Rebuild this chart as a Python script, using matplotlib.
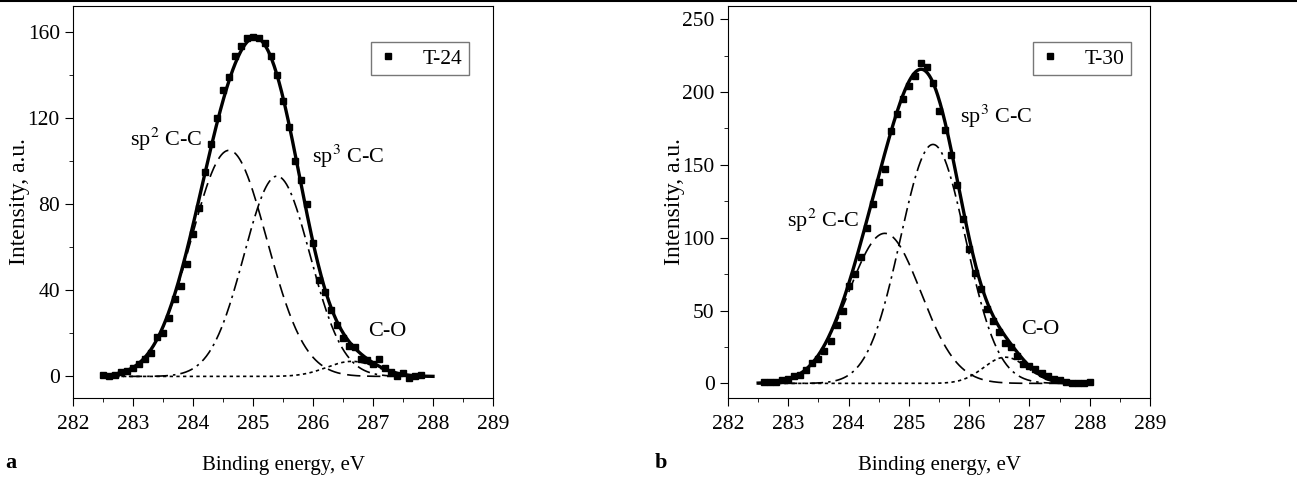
import numpy as np
import matplotlib
matplotlib.use("Agg")
import matplotlib.pyplot as plt
from matplotlib.lines import Line2D
from matplotlib.ticker import MultipleLocator

plt.rcParams["font.family"] = ["Liberation Serif", "DejaVu Serif"]
plt.rcParams["mathtext.fontset"] = "stix"

# ── Data ──────────────────────────────────────────────────────────────────────

# panel a, T-24: measured points (0.1 eV step)
t24_x = np.round(np.arange(282.5, 287.85, 0.1), 2)
t24_y = [0.5, 0.3, 0.8, 2, 2.5, 4, 6, 8, 11, 18.5,
         20, 27, 36, 42, 52, 66, 78, 95, 108, 120,
         133, 139, 149, 153.5, 157, 157.5, 157, 155, 149, 140,
         128, 116, 100, 91, 80, 62, 45, 39, 31, 24,
         18, 14, 13.5, 8, 7.5, 6, 8, 4, 2, 0,
         1.5, -0.5, 0, 0.5]

# panel b, T-30
t30_x = np.round(np.arange(282.6, 288.05, 0.1), 2)
t30_y = [1, 1, 1, 2, 3, 5, 5.5, 9, 14, 17,
         22, 29, 40, 50, 67, 75, 87, 107, 123, 138,
         147, 173, 185, 195, 204, 211, 220, 217, 206, 187,
         174, 157, 136, 113, 92, 76, 65, 51, 43, 35,
         28, 25, 19, 13, 12, 10, 7, 5, 3, 2,
         1, 0.5, 0.5, 0.5, 1]

# fitted components: sp2 C-C, sp3 C-C, C-O (centre eV, height, sigma eV)
peak_names = ["sp2", "sp3", "CO"]
t24_centre = [284.6, 285.4, 286.65]
t24_height = [105, 93, 7]
t24_sigma = [0.63, 0.55, 0.42]
t30_centre = [284.6, 285.4, 286.6]
t30_height = [103, 164, 18]
t30_sigma = [0.60, 0.54, 0.36]

fit_range = (282.5, 288.0)

# ── Plotting ──────────────────────────────────────────────────────────────────

STYLES = {"sp2": (0, (8, 4)),
          "sp3": (0, (8, 3, 1.5, 3)),
          "CO": (0, (2, 2))}


def gauss(x, c, h, s):
    return h * np.exp(-(x - c) ** 2 / (2 * s ** 2))


def draw_panel(ax, xs, ys, centres, heights, sigmas, name, ylim, ymaj, ymin,
               leg_anchor):
    xf = np.linspace(*fit_range, 400)
    total = np.zeros_like(xf)
    for pk, c, h, s in zip(peak_names, centres, heights, sigmas):
        g = gauss(xf, c, h, s)
        total += g
        ax.plot(xf, g, color="black", lw=1.2, linestyle=STYLES[pk])
    ax.plot(xf, total, color="black", lw=2.4)
    ax.plot(xs, ys, "s", color="black", markersize=5, label=name)

    ax.set_xlim(282, 289)
    ax.set_ylim(*ylim)
    ax.xaxis.set_major_locator(MultipleLocator(1))
    ax.xaxis.set_minor_locator(MultipleLocator(0.5))
    ax.yaxis.set_major_locator(MultipleLocator(ymaj))
    ax.yaxis.set_minor_locator(MultipleLocator(ymin))
    ax.tick_params(which="both", direction="out", top=False, right=False,
                   labelsize=15.5)
    ax.tick_params(which="major", length=6)
    ax.tick_params(which="minor", length=3)
    ax.tick_params(axis="x", which="major", pad=6)
    ax.set_xlabel("Binding energy, eV", fontsize=15, labelpad=16)
    ax.set_ylabel("Intensity, a.u.", fontsize=17, labelpad=-2)
    leg = ax.legend(loc="upper right", fontsize=15.5, fancybox=False,
                    handlelength=1.0, handletextpad=1.1, borderpad=0.3,
                    borderaxespad=0, bbox_to_anchor=leg_anchor, framealpha=1)
    leg.get_frame().set_edgecolor("#777777")


fig = plt.figure(figsize=(12.97, 4.78), dpi=100)
ax_a = fig.add_axes([0.0563, 0.1674, 0.3238, 0.820])
ax_b = fig.add_axes([0.5613, 0.1674, 0.3254, 0.820])

draw_panel(ax_a, t24_x, t24_y, t24_centre, t24_height, t24_sigma, "T-24",
           (-10, 172), 40, 20, (0.943, 0.908))
draw_panel(ax_b, t30_x, t30_y, t30_centre, t30_height, t30_sigma, "T-30",
           (-10, 259), 50, 25, (0.955, 0.908))

ax_a.text(282.95, 110, "sp$^2$ C-C", fontsize=16, va="center")
ax_a.text(285.98, 102, "sp$^3$ C-C", fontsize=16, va="center")
ax_a.text(286.92, 21, "C-O", fontsize=16, va="center")
ax_b.text(282.98, 112, "sp$^2$ C-C", fontsize=16, va="center")
ax_b.text(285.85, 183, "sp$^3$ C-C", fontsize=16, va="center")
ax_b.text(286.86, 37, "C-O", fontsize=16, va="center")

fig.text(0.004, 0.02, "a", fontsize=16, fontweight="bold")
fig.text(0.505, 0.02, "b", fontsize=16, fontweight="bold")
fig.add_artist(Line2D([0, 1], [0.998, 0.998], color="black", lw=1.5))

fig.savefig("out.png", dpi=100)
